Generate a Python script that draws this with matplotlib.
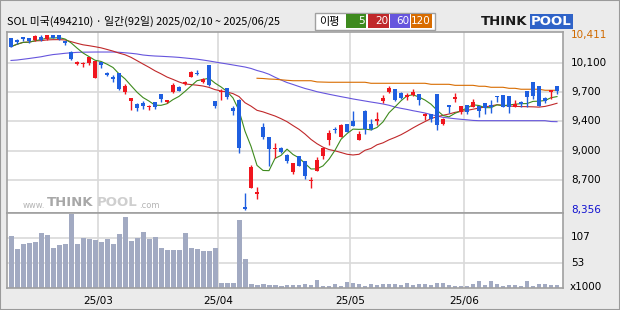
import matplotlib
matplotlib.use('Agg')
import matplotlib.pyplot as plt
import numpy as np
import pandas as pd
from matplotlib.patches import Rectangle

plt.rcParams['font.family'] = ['Noto Sans CJK KR', 'DejaVu Sans']

# daily candles 2025/02/10 ~ 2025/06/25 (92 days)
opens = [10372, 10350, 10388, 10376, 10350, 10391, 10360, 10407, 10407, 10335,
         10215, 10067, 10067, 10086, 9910, 10094, 9968, 9922, 9961, 9742,
         9640, 9601, 9616, 9560, 9625, 9718, 9621, 9742, 9804, 9832,
         9922, 9965, 9863, 10059, 9636, 9740, 9785, 9550, 9648, 8391,
         8619, 8541, 9331, 9210, 9075, 9084, 9002, 8806, 8990, 8932,
         8700, 8819, 8994, 9178, 9300, 9217, 9362, 9405, 9178, 9519,
         9366, 9405, 9633, 9746, 9774, 9734, 9680, 9710, 9718, 9465,
         9480, 9718, 9370, 9589, 9660, 9511, 9586, 9570, 9578, 9609,
         9589, 9695, 9707, 9695, 9570, 9628, 9754, 9859, 9812, 9675,
         9742, 9812]
highs = [10380, 10358, 10392, 10380, 10405, 10405, 10410, 10411, 10411, 10345,
         10220, 10110, 10090, 10155, 10110, 10098, 9975, 9945, 9965, 9835,
         9670, 9610, 9640, 9590, 9628, 9720, 9650, 9845, 9815, 9868,
         9985, 10000, 9905, 10062, 9640, 9775, 9790, 9580, 9655, 8560,
         8885, 8630, 9380, 9215, 9140, 9095, 9010, 8906, 8995, 8935,
         8740, 8980, 9085, 9290, 9335, 9370, 9370, 9514, 9280, 9525,
         9420, 9510, 9710, 9810, 9780, 9740, 9725, 9780, 9720, 9490,
         9485, 9720, 9432, 9590, 9735, 9578, 9590, 9660, 9582, 9612,
         9650, 9697, 9710, 9698, 9650, 9640, 9756, 9862, 9815, 9680,
         9770, 9815]
lows = [10265, 10300, 10340, 10320, 10345, 10340, 10356, 10370, 10355, 10290,
        10117, 10060, 10030, 10060, 9905, 10020, 9925, 9855, 9770, 9718,
        9535, 9520, 9540, 9530, 9545, 9625, 9615, 9735, 9750, 9828,
        9915, 9940, 9850, 9815, 9555, 9650, 9665, 9475, 9030, 8356,
        8610, 8490, 9190, 8875, 8970, 9020, 8905, 8780, 8870, 8725,
        8610, 8812, 8950, 9125, 9260, 9210, 9270, 9340, 9175, 9250,
        9300, 9360, 9610, 9735, 9640, 9660, 9650, 9700, 9590, 9410,
        9395, 9295, 9355, 9490, 9620, 9485, 9485, 9565, 9450, 9485,
        9495, 9630, 9565, 9495, 9565, 9562, 9562, 9660, 9575, 9610,
        9660, 9720]
closes = [10274, 10330, 10368, 10337, 10400, 10356, 10407, 10376, 10360, 10320,
          10133, 10098, 10086, 10149, 10106, 10063, 9937, 9891, 9777, 9812,
          9668, 9550, 9577, 9568, 9570, 9660, 9645, 9820, 9757, 9863,
          9977, 9955, 9894, 9824, 9581, 9752, 9687, 9515, 9088, 8365,
          8865, 8568, 9217, 9076, 9087, 9037, 8936, 8904, 8877, 8760,
          8712, 8944, 9080, 9264, 9290, 9354, 9276, 9346, 9249, 9307,
          9307, 9417, 9675, 9785, 9648, 9668, 9707, 9738, 9648, 9474,
          9425, 9354, 9428, 9570, 9680, 9574, 9511, 9625, 9523, 9558,
          9570, 9680, 9570, 9570, 9601, 9601, 9687, 9699, 9581, 9640,
          9765, 9754]
# volume in thousands
volume = [110.5, 82, 92.7, 94.8, 97, 116, 112, 84, 90.5, 92.7,
          157, 92.7, 105.5, 103.4, 101, 97, 103.4, 92.7, 114, 150,
          99, 105.5, 118, 103.4, 107.7, 84, 80, 80, 80, 116,
          84, 82, 77.7, 77.7, 84, 9.3, 9.3, 9.3, 144, 60.6,
          7.1, 5, 7.1, 5, 5, 2.9, 5, 5, 5, 7.1,
          5, 15.7, 2.9, 2.9, 7.1, 2.9, 11.4, 9.3, 7.1, 2.9,
          7.1, 5, 7.1, 7.1, 7.1, 5, 9.3, 5, 7.1, 7.1,
          5, 9.3, 9.3, 5, 2.9, 2.9, 2.9, 7.1, 13.5, 5,
          13.5, 7.1, 2.9, 5, 5, 2.9, 13.5, 2.9, 7.1, 7.1,
          5, 5]
# 60 / 120 day averages as shown (need history before the window)
ma60 = [10112, 10117, 10126, 10135, 10145, 10155, 10169, 10181, 10188, 10196,
        10202, 10207, 10209, 10210, 10211, 10211, 10211, 10211, 10208, 10202,
        10196, 10188, 10176, 10169, 10164, 10161, 10157, 10153, 10148, 10141,
        10134, 10127, 10117, 10106, 10094, 10082, 10071, 10059, 10047, 10035,
        10018, 9994, 9975, 9950, 9915, 9883, 9853, 9830, 9806, 9783,
        9765, 9745, 9730, 9715, 9701, 9687, 9674, 9660, 9648, 9636,
        9624, 9613, 9601, 9586, 9565, 9550, 9537, 9522, 9509, 9495,
        9477, 9460, 9444, 9436, 9428, 9421, 9415, 9408, 9405, 9405,
        9405, 9405, 9405, 9405, 9405, 9405, 9405, 9405, 9405, 9405,
        9395, 9393]
ma120_start = 41
ma120 = [9903, 9900, 9894, 9891, 9885, 9879, 9874, 9874, 9874, 9874,
         9860, 9858, 9856, 9856, 9856, 9856, 9856, 9856, 9856,
         9844, 9844, 9844, 9844, 9844, 9844, 9844, 9844, 9844, 9844,
         9832, 9832, 9832, 9832, 9820, 9820, 9820, 9820, 9809, 9809,
         9797, 9797, 9797, 9785, 9785, 9774, 9774, 9774, 9774,
         9762, 9762, 9762]

month_pos = [14.5, 34.5, 56.5, 75.5]
month_labels = ['25/03', '25/04', '25/05', '25/06']
price_grid = [10080, 9740, 9400, 9045, 8705]
price_labels = ['10,100', '9,700', '9,400', '9,000', '8,700']
vol_grid = [107, 53]

RED = '#f0161e'
BLUE = '#1f5fe0'
GRID = '#d9d9d9'
EDGE = '#a0a0a0'
BG = '#ebebeb'
MA_COLORS = {'5': '#3e8a1e', '20': '#c0282a', '60': '#6655dd', '120': '#d86c00'}

W, H = 620, 310
fig = plt.figure(figsize=(6.2, 3.1), dpi=100, facecolor=BG)


def fx(x):
    return x / W


def fy(y):
    return 1 - y / H


# price panel / volume panel
ax = fig.add_axes([fx(7), fy(212.5), (563 - 7) / W, 180.5 / H])
axv = fig.add_axes([fx(7), fy(287.5), (563 - 7) / W, 75 / H], sharex=ax)

x = np.arange(len(closes))
o = np.array(opens)
h = np.array(highs)
l = np.array(lows)
c = np.array(closes)
cols = np.where(c >= o, RED, BLUE)

# grid
for a in (ax, axv):
    a.set_facecolor('white')
    for m in month_pos:
        a.axvline(m, color=GRID, lw=1.2, zorder=0)
    for s in a.spines.values():
        s.set_color(EDGE)
        s.set_linewidth(1.2)
    a.tick_params(left=False, right=False, bottom=False, top=False,
                  labelleft=False, labelbottom=False)
for g in price_grid:
    ax.axhline(g, color=GRID, lw=1.2, zorder=0)
for g in vol_grid:
    axv.axhline(g, color=GRID, lw=1.2, zorder=0)

# moving averages
ma5 = pd.Series(closes).rolling(5, min_periods=1).mean()
ma20 = pd.Series(closes).rolling(20, min_periods=1).mean()
ax.plot(x, ma60, color=MA_COLORS['60'], lw=0.8, zorder=2)
ax.plot(np.arange(ma120_start, ma120_start + len(ma120)), ma120,
        color=MA_COLORS['120'], lw=0.8, zorder=2)
ax.plot(x, ma20, color=MA_COLORS['20'], lw=0.8, zorder=2)
ax.plot(x, ma5, color=MA_COLORS['5'], lw=0.8, zorder=2)

# candles
ax.vlines(x, l, h, colors=cols, lw=1.0, zorder=3)
body_bot = np.minimum(o, c)
body_h = np.maximum(np.abs(c - o), 14)
ax.bar(x, body_h, 0.75, bottom=body_bot, color=cols, lw=0, zorder=4)

ax.set_xlim(-0.67, 92.0)
ax.set_ylim(8327, 10446)

# volume
axv.bar(x, volume, 0.83, color='#a2aac2', lw=0, zorder=2)
axv.set_ylim(0, 160.5)

# right labels
ty = ax.get_yaxis_transform()
lx = (571 - 7) / 556
ax.text(lx, max(highs), f'{max(highs):,}', transform=ty, color='#d06a00',
        fontsize=7.5, va='center', family='DejaVu Sans', clip_on=False)
ax.text(lx, min(lows), f'{min(lows):,}', transform=ty, color='#1010d0',
        fontsize=7.5, va='center', family='DejaVu Sans', clip_on=False)
for g, lab in zip(price_grid, price_labels):
    ax.text(lx, g, lab, transform=ty, color='black', fontsize=7.5,
            va='center', family='DejaVu Sans', clip_on=False)
tv = axv.get_yaxis_transform()
for g in vol_grid:
    axv.text(lx, g, str(g), transform=tv, fontsize=7.5, va='center',
             family='DejaVu Sans', clip_on=False)
axv.text(lx - 0.002, 2, 'x1000', transform=tv, fontsize=7.5, va='center',
         family='DejaVu Sans', clip_on=False)

# month labels
tx = axv.get_xaxis_transform()
for m, lab in zip(month_pos, month_labels):
    axv.text(m, -0.18, lab, transform=tx, ha='center', va='center',
             fontsize=7.5, family='DejaVu Sans', clip_on=False)

# watermark
fig.text(fx(23), fy(205), 'www.', color='#b4b4b4', fontsize=6,
         va='center', family='DejaVu Sans')
fig.text(fx(47), fy(203), 'THINK', color='#a8a8a8', fontsize=9.5,
         va='center', family='DejaVu Sans', fontweight='bold')
fig.text(fx(97), fy(203), 'POOL', color='#cfcfcf', fontsize=9.5,
         va='center', family='DejaVu Sans', fontweight='bold')
fig.text(fx(139), fy(205), '.com', color='#b4b4b4', fontsize=6,
         va='center', family='DejaVu Sans')

# header
fig.text(fx(7), fy(21), 'SOL 미국(494210) · 일간(92일) 2025/02/10 ~ 2025/06/25',
         fontsize=7.8, va='center', color='black')

# MA legend box
fig.patches.append(Rectangle((fx(315), fy(30)), 120 / W, 17.3 / H,
                             transform=fig.transFigure, facecolor='white',
                             edgecolor=EDGE, lw=1))
fig.text(fx(319), fy(21.5), '이평', fontsize=8, va='center')
box_x = [346, 368, 390, 411]
box_w = [20, 21, 20, 21]
for (k, col), bx, bw in zip(MA_COLORS.items(), box_x, box_w):
    fig.patches.append(Rectangle((fx(bx), fy(28)), bw / W, 14 / H,
                                 transform=fig.transFigure, facecolor=col,
                                 edgecolor='none'))
    fig.text(fx(bx + bw - 1), fy(21.5), k, fontsize=7.5, va='center',
             ha='right', color='white', family='DejaVu Sans')

# ThinkPool logo
fig.text(fx(481), fy(21.5), 'THINK', fontsize=9.5, fontweight='bold',
         va='center', color='#1a1a1a', family='DejaVu Sans')
fig.text(fx(531), fy(21.5), 'POOL', fontsize=9.5, fontweight='bold',
         va='center', color='white', family='DejaVu Sans',
         bbox=dict(boxstyle='square,pad=0.08', fc='#2f63c8', ec='none'))

# outer frame
fig.patches.append(Rectangle((0, 0), 1, 1, transform=fig.transFigure,
                             facecolor='none', edgecolor='#9a9a9a', lw=1.5))

fig.savefig('out.png', dpi=100, facecolor=BG)
